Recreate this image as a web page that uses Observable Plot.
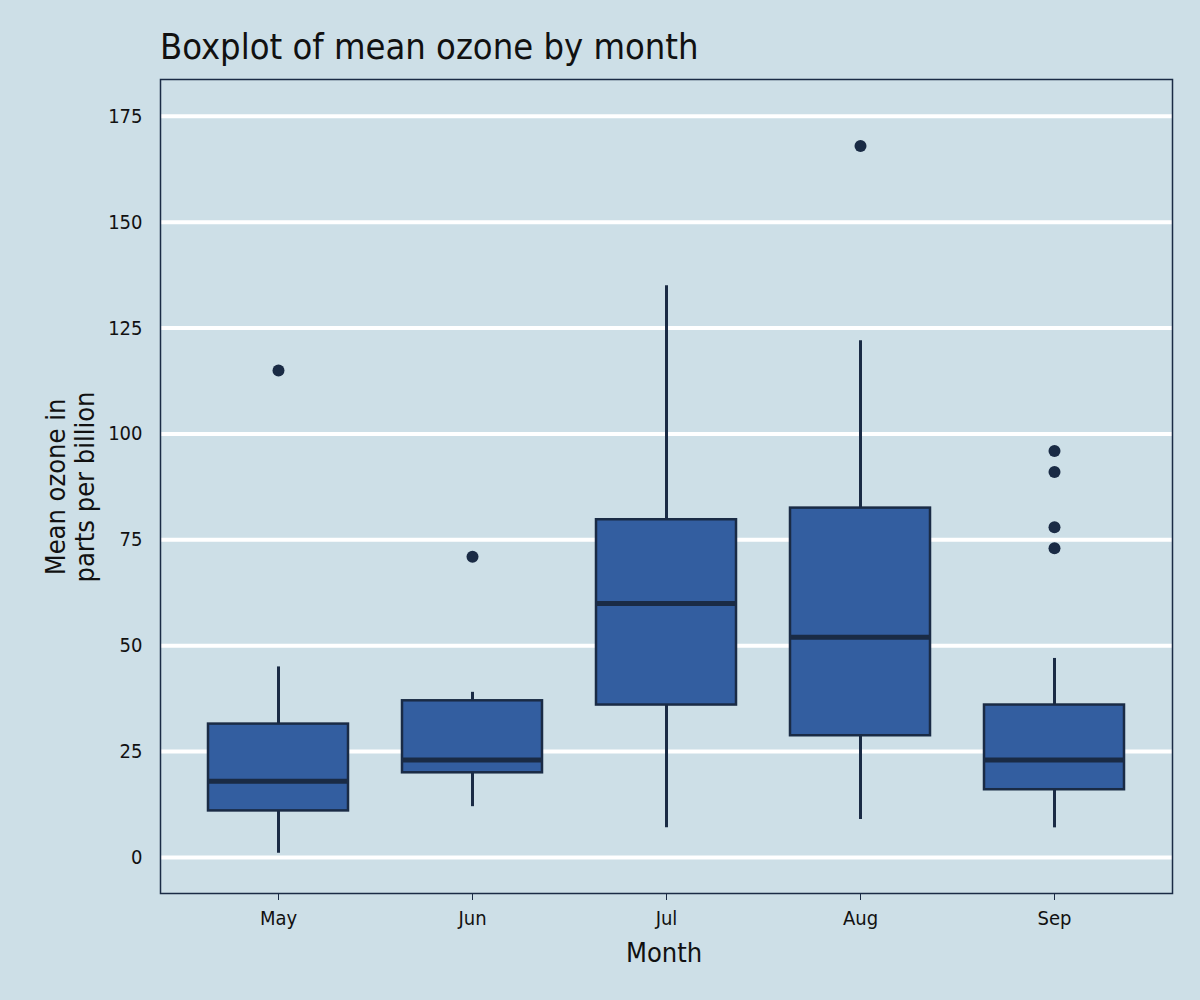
<!DOCTYPE html>
<html>
<head>
<meta charset="utf-8">
<script src="https://cdn.jsdelivr.net/npm/d3@7"></script>
<script src="https://cdn.jsdelivr.net/npm/@observablehq/plot@0.6"></script>
<style>
  body { margin: 0; background: #cddfe7; font-family: "DejaVu Sans Condensed", "DejaVu Sans", sans-serif; }
  #wrap { position: relative; width: 1200px; height: 1000px; }
  #title { position: absolute; left: 160px; top: 26px; font-size: 36px; color: #111; }
</style>
</head>
<body>
<div id="wrap">
  <div id="title">Boxplot of mean ozone by month</div>
  <div id="chart"></div>
</div>
<script>
const months = ["May", "Jun", "Jul", "Aug", "Sep"];
const whiskerLow = [1, 12, 7, 9, 7];
const q1 = [11, 20, 36, 28.75, 16];
const median = [18, 23, 60, 52, 23];
const q3 = [31.5, 37, 79.75, 82.5, 36];
const whiskerHigh = [45, 39, 135, 122, 47];
const outlierMonth = ["May", "Jun", "Aug", "Sep", "Sep", "Sep", "Sep"];
const outlierValue = [115, 71, 168, 73, 78, 91, 96];
const yTicks = [0, 25, 50, 75, 100, 125, 150, 175];

const boxes = months.map((m, i) => ({
  month: m, lo: whiskerLow[i], q1: q1[i], med: median[i], q3: q3[i], hi: whiskerHigh[i]
}));
const outliers = outlierMonth.map((m, i) => ({month: m, value: outlierValue[i]}));

const ink = "#1a2b45";
const chart = Plot.plot({
  width: 1200,
  height: 1000,
  marginTop: 79,
  marginLeft: 160,
  marginRight: 28,
  marginBottom: 107,
  style: {background: "transparent", fontSize: "20px", fontFamily: "DejaVu Sans Condensed, DejaVu Sans, sans-serif", color: "#111"},
  x: {domain: months, paddingInner: 0.28, paddingOuter: 0.235, label: null},
  y: {domain: [-8.5, 183.7], label: null},
  marks: [
    Plot.gridY(yTicks, {stroke: "white", strokeOpacity: 1, strokeWidth: 4}),
    Plot.axisY(yTicks, {tickSize: 0, tickPadding: 18, fontSize: 20}),
    Plot.axisX({tickSize: 7, tickPadding: 10, fontSize: 20, stroke: ink}),
    Plot.ruleX(boxes, {x: "month", y1: "lo", y2: "hi", stroke: ink, strokeWidth: 3}),
    Plot.barY(boxes, {x: "month", y1: "q1", y2: "q3", fill: "#335ea0", stroke: ink, strokeWidth: 2.5}),
    Plot.tickY(boxes, {x: "month", y: "med", stroke: ink, strokeWidth: 5}),
    Plot.dot(outliers, {x: "month", y: "value", r: 6, fill: ink}),
    Plot.frame({stroke: ink, strokeWidth: 1.5})
  ]
});
d3.select("#chart").append(() => chart);

const svg = d3.select(chart);
svg.append("text").attr("x", 664).attr("y", 962).attr("text-anchor", "middle")
  .attr("font-size", 27).attr("fill", "#111").text("Month");
const yl = svg.append("text").attr("transform", "translate(70,487) rotate(-90)")
  .attr("text-anchor", "middle").attr("font-size", 27).attr("fill", "#111");
yl.append("tspan").attr("x", 0).attr("dy", "-0.2em").text("Mean ozone in");
yl.append("tspan").attr("x", 0).attr("dy", "1.1em").text("parts per billion");
</script>
</body>
</html>
